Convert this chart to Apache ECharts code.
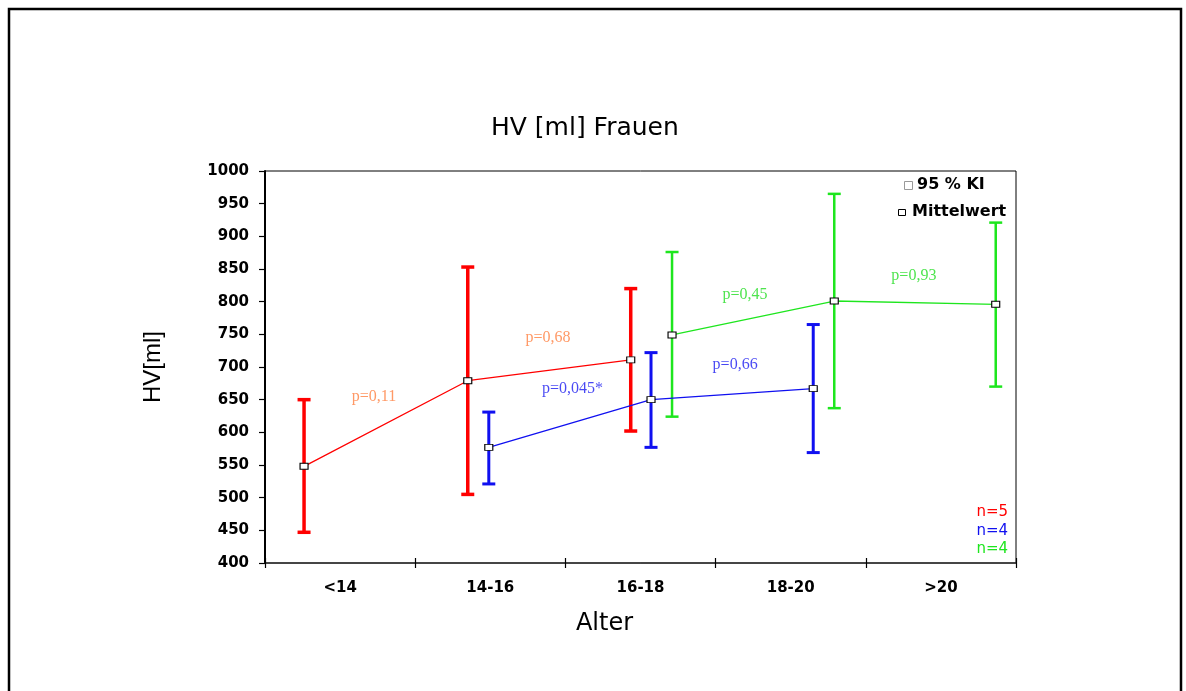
<!DOCTYPE html>
<html><head><meta charset="utf-8">
<script src="https://cdn.jsdelivr.net/npm/echarts@6/dist/echarts.min.js"></script>
<style>html,body{margin:0;padding:0;background:#fff}#c{width:1186px;height:691px}</style>
</head><body><div id="c"></div>
<script>
// ---- data ----
const categories = ['<14', '14-16', '16-18', '18-20', '>20'];

// x positions (in category units from the left edge of the axis)
const redX = [0.26, 1.35, 2.435];
const redMean = [548, 679, 711];
const redLow = [447, 505, 602];
const redHigh = [650, 853, 820];

const blueX = [1.49, 2.57, 3.65];
const blueMean = [577, 650, 667];
const blueLow = [521, 577, 569];
const blueHigh = [631, 722, 765];

const greenX = [2.71, 3.79, 4.865];
const greenMean = [749, 801, 796];
const greenLow = [624, 637, 670];
const greenHigh = [876, 965, 921];

const pTexts = ['p=0,11', 'p=0,68', 'p=0,045*', 'p=0,66', 'p=0,45', 'p=0,93'];
const pX = [0.726, 1.884, 2.048, 3.13, 3.195, 4.32];
const pY = [654, 745, 666, 703, 811, 839];
const pGroup = ['red', 'red', 'blue', 'blue', 'green', 'green'];

const nLabels = ['n=5', 'n=4', 'n=4'];
const nGroup = ['red', 'blue', 'green'];

const legendLabels = ['95 % KI', 'Mittelwert'];

// ---- styles ----
const COL = { red: '#ff0000', blue: '#1010f0', green: '#1ee61e' };
const PCOL = { red: '#ff8040', blue: '#1a1af0', green: '#22dd22' };
const BARW = { red: 3.5, blue: 3, green: 2.5 };

function zip2(xs, ys) { return xs.map((x, i) => [x, ys[i]]); }
function zip3(xs, lo, hi) { return xs.map((x, i) => [x, lo[i], hi[i]]); }

function errRender(color, w) {
  return function (params, api) {
    const x = api.value(0), lo = api.value(1), hi = api.value(2);
    const a = api.coord([x, lo]), b = api.coord([x, hi]);
    const cw = 6.5;
    const st = { stroke: color, lineWidth: w };
    return {
      type: 'group', children: [
        { type: 'line', shape: { x1: a[0], y1: a[1], x2: b[0], y2: b[1] }, style: st },
        { type: 'line', shape: { x1: a[0] - cw, y1: a[1], x2: a[0] + cw, y2: a[1] }, style: st },
        { type: 'line', shape: { x1: b[0] - cw, y1: b[1], x2: b[0] + cw, y2: b[1] }, style: st }
      ]
    };
  };
}

function errSeries(name, xs, lo, hi) {
  return {
    type: 'custom', xAxisIndex: 2, yAxisIndex: 0, silent: true, z: 2,
    renderItem: errRender(COL[name], BARW[name]),
    encode: { x: 0, y: [1, 2] },
    data: zip3(xs, lo, hi)
  };
}
function lineSeries(name, xs, ys) {
  return {
    type: 'line', xAxisIndex: 2, yAxisIndex: 0, silent: true, z: 5,
    data: zip2(xs, ys),
    symbol: 'rect', symbolSize: [8, 6],
    itemStyle: { color: '#fff', borderColor: '#000', borderWidth: 1 },
    lineStyle: { color: COL[name], width: 1.3 }
  };
}

const sansB = 'DejaVu Sans';

const chart = echarts.init(document.getElementById('c'), null, { renderer: 'canvas' });
chart.setOption({
  animation: false,
  backgroundColor: '#fff',
  title: {
    text: 'HV [ml] Frauen', left: 486, top: 111,
    textStyle: { fontFamily: 'DejaVu Sans', fontSize: 25, fontWeight: 'normal', color: '#000' }
  },
  grid: {
    left: 265, right: 170, top: 171, bottom: 128,
    show: true, borderColor: '#000', borderWidth: 1, backgroundColor: 'transparent'
  },
  xAxis: [
    {
      type: 'category', data: categories, position: 'bottom', boundaryGap: true,
      axisLine: { lineStyle: { color: '#333', width: 1.5 } },
      axisTick: { show: true, length: 5, alignWithLabel: false, lineStyle: { color: '#000', width: 1.2 } },
      axisLabel: { margin: 18, fontFamily: sansB, fontWeight: 'bold', fontSize: 15, color: '#000' },
      splitLine: { show: false },
      name: 'Alter', nameLocation: 'middle', nameGap: 49,
      nameTextStyle: { fontFamily: 'DejaVu Sans', fontSize: 24, color: '#000', padding: [0, 72, 0, 0] }
    },
    {
      type: 'category', data: categories, position: 'bottom', boundaryGap: true,
      axisLine: { show: true, lineStyle: { color: 'rgba(0,0,0,0)' } },
      axisTick: { show: true, inside: true, length: 5, lineStyle: { color: '#000', width: 1.2 } },
      axisLabel: { show: false }, splitLine: { show: false }
    },
    { type: 'value', min: 0, max: 5, position: 'top', show: false, splitLine: { show: false } }
  ],
  yAxis: [{
    type: 'value', min: 400, max: 1000, interval: 50,
    axisLine: { show: true, lineStyle: { color: '#000', width: 2 } },
    axisTick: { show: true, length: 6, lineStyle: { color: '#000', width: 1.2 } },
    axisLabel: { margin: 16, fontFamily: sansB, fontWeight: 'bold', fontSize: 15, color: '#000',
      formatter: v => String(v) },
    splitLine: { show: false },
    name: 'HV[ml]', nameLocation: 'middle', nameGap: 100, nameRotate: 90,
    nameTextStyle: { fontFamily: 'Liberation Sans', fontSize: 24, color: '#000' }
  }],
  series: [
    errSeries('red', redX, redLow, redHigh),
    errSeries('blue', blueX, blueLow, blueHigh),
    errSeries('green', greenX, greenLow, greenHigh),
    lineSeries('red', redX, redMean),
    lineSeries('blue', blueX, blueMean),
    lineSeries('green', greenX, greenMean),
    {
      type: 'scatter', xAxisIndex: 2, yAxisIndex: 0, silent: true, symbolSize: 0, z: 6,
      data: pTexts.map((t, i) => ({
        value: [pX[i], pY[i], t],
        label: { color: PCOL[pGroup[i]] }
      })),
      label: {
        show: true, position: 'inside', formatter: p => p.value[2],
        fontFamily: 'Liberation Serif', fontSize: 16
      }
    }
  ],
  graphic: [
    { type: 'rect', silent: true, shape: { x: 9, y: 9, width: 1172, height: 720 },
      style: { fill: 'none', stroke: '#000', lineWidth: 2.5 } },
    { type: 'rect', silent: true, shape: { x: 904.5, y: 181.5, width: 8, height: 8 },
      style: { fill: '#fff', stroke: '#999', lineWidth: 1 } },
    { type: 'text', silent: true, x: 917, y: 185,
      style: { text: legendLabels[0], font: 'bold 16px "DejaVu Sans"', fill: '#000', verticalAlign: 'middle' } },
    { type: 'rect', silent: true, shape: { x: 898.5, y: 209.5, width: 7, height: 6 },
      style: { fill: '#fff', stroke: '#000', lineWidth: 1 } },
    { type: 'text', silent: true, x: 912, y: 212,
      style: { text: legendLabels[1], font: 'bold 16px "DejaVu Sans"', fill: '#000', verticalAlign: 'middle' } }
  ].concat(nLabels.map((t, i) => ({
    type: 'text', silent: true, x: 1008, y: 512.5 + i * 18.5,
    style: { text: t, font: '15px "DejaVu Sans"', fill: COL[nGroup[i]], align: 'right', verticalAlign: 'middle' }
  })))
});
</script>
</body></html>
